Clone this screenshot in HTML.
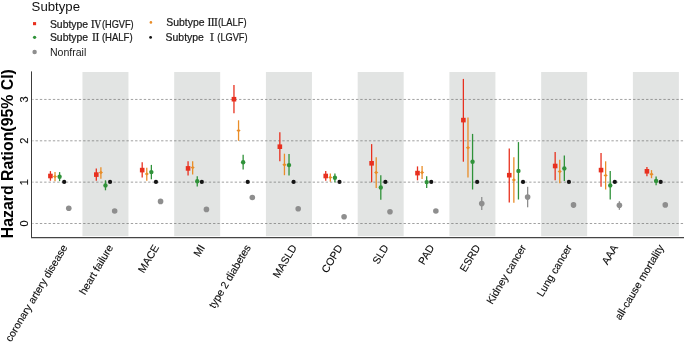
<!DOCTYPE html>
<html lang="en"><head><meta charset="utf-8"><title>Hazard Ratio by Subtype</title>
<style>
html,body{margin:0;padding:0;background:#fff;}
body{width:685px;height:342px;overflow:hidden;}
svg{display:block;will-change:transform;}
text{font-family:"Liberation Sans","Noto Sans CJK SC",sans-serif;fill:#1a1a1a;}
.xl{font-size:10.6px;fill:#0d0d0d;stroke:#0d0d0d;stroke-width:0.12px;}
.yt{font-size:11px;fill:#111;stroke:#111;stroke-width:0.15px;}
.ytitle{font-size:15.85px;font-weight:bold;fill:#000;}
.lt{font-size:13.2px;fill:#111;}
.le{font-size:10.4px;stroke:#1a1a1a;stroke-width:0.22px;}
.nf{stroke:none;}
.rn{font-family:"Liberation Serif","Noto Serif CJK SC",serif;font-weight:500;}
</style></head><body>
<svg width="685" height="342" viewBox="0 0 685 342">
<rect width="685" height="342" fill="#fff"/>
<rect x="82.45" y="72" width="46" height="164.15" fill="#e2e4e3"/>
<rect x="174.19" y="72" width="46" height="164.15" fill="#e2e4e3"/>
<rect x="265.93" y="72" width="46" height="164.15" fill="#e2e4e3"/>
<rect x="357.67" y="72" width="46" height="164.15" fill="#e2e4e3"/>
<rect x="449.41" y="72" width="46" height="164.15" fill="#e2e4e3"/>
<rect x="541.15" y="72" width="46" height="164.15" fill="#e2e4e3"/>
<rect x="632.89" y="72" width="46" height="164.15" fill="#e2e4e3"/>
<line x1="32.4" x2="685" y1="223.50" y2="223.50" stroke="#666" stroke-width="0.62" stroke-dasharray="2.35 1.98" stroke-dashoffset="1.2"/>
<line x1="32.4" x2="685" y1="182.15" y2="182.15" stroke="#666" stroke-width="0.62" stroke-dasharray="2.35 1.98" stroke-dashoffset="1.2"/>
<line x1="32.4" x2="685" y1="140.80" y2="140.80" stroke="#666" stroke-width="0.62" stroke-dasharray="2.35 1.98" stroke-dashoffset="1.2"/>
<line x1="32.4" x2="685" y1="99.45" y2="99.45" stroke="#666" stroke-width="0.62" stroke-dasharray="2.35 1.98" stroke-dashoffset="1.2"/>
<line x1="31.5" x2="31.5" y1="71.4" y2="238.0" stroke="#3c3c3c" stroke-width="1"/>
<line x1="31" x2="684" y1="237.65" y2="237.65" stroke="#454545" stroke-width="1.3"/>
<line x1="50.42" x2="50.42" y1="171.1" y2="180.7" stroke="#e8301f" stroke-width="1.3"/>
<rect x="48.12" y="173.70" width="4.6" height="4.6" fill="#e8301f"/>
<line x1="55.01" x2="55.01" y1="172.1" y2="181.3" stroke="#e98d28" stroke-width="1.3"/>
<polygon points="52.91,176.60 55.01,174.90 57.11,176.60 55.01,178.30" fill="#e98d28"/>
<line x1="59.60" x2="59.60" y1="172.1" y2="181.1" stroke="#2f9239" stroke-width="1.3"/>
<circle cx="59.60" cy="176.8" r="2.2" fill="#2f9239"/>
<circle cx="64.19" cy="181.9" r="2.1" fill="#141414"/>
<circle cx="68.78" cy="208.3" r="2.8" fill="#8e8e8e"/>
<line x1="96.31" x2="96.31" y1="168.4" y2="180.7" stroke="#e8301f" stroke-width="1.3"/>
<rect x="94.01" y="172.30" width="4.6" height="4.6" fill="#e8301f"/>
<line x1="100.89" x2="100.89" y1="167.2" y2="178.7" stroke="#e98d28" stroke-width="1.3"/>
<polygon points="98.80,172.50 100.89,170.80 102.99,172.50 100.89,174.20" fill="#e98d28"/>
<line x1="105.48" x2="105.48" y1="180.3" y2="190.3" stroke="#2f9239" stroke-width="1.3"/>
<circle cx="105.48" cy="185.4" r="2.2" fill="#2f9239"/>
<circle cx="110.08" cy="181.9" r="2.1" fill="#141414"/>
<circle cx="114.66" cy="211.0" r="2.8" fill="#8e8e8e"/>
<line x1="142.19" x2="142.19" y1="162.3" y2="177.6" stroke="#e8301f" stroke-width="1.3"/>
<rect x="139.89" y="167.80" width="4.6" height="4.6" fill="#e8301f"/>
<line x1="146.78" x2="146.78" y1="167.8" y2="180.7" stroke="#e98d28" stroke-width="1.3"/>
<polygon points="144.68,173.90 146.78,172.20 148.88,173.90 146.78,175.60" fill="#e98d28"/>
<line x1="151.37" x2="151.37" y1="164.9" y2="179.3" stroke="#2f9239" stroke-width="1.3"/>
<circle cx="151.37" cy="172.1" r="2.2" fill="#2f9239"/>
<circle cx="155.96" cy="181.9" r="2.1" fill="#141414"/>
<circle cx="160.55" cy="201.4" r="2.8" fill="#8e8e8e"/>
<line x1="188.07" x2="188.07" y1="161.3" y2="175.6" stroke="#e8301f" stroke-width="1.3"/>
<rect x="185.77" y="166.10" width="4.6" height="4.6" fill="#e8301f"/>
<line x1="192.66" x2="192.66" y1="161.3" y2="174.6" stroke="#e98d28" stroke-width="1.3"/>
<polygon points="190.56,167.60 192.66,165.90 194.76,167.60 192.66,169.30" fill="#e98d28"/>
<line x1="197.25" x2="197.25" y1="176.2" y2="186.4" stroke="#2f9239" stroke-width="1.3"/>
<circle cx="197.25" cy="181.3" r="2.2" fill="#2f9239"/>
<circle cx="201.84" cy="181.9" r="2.1" fill="#141414"/>
<circle cx="206.44" cy="209.4" r="2.8" fill="#8e8e8e"/>
<line x1="233.96" x2="233.96" y1="85.1" y2="113.2" stroke="#e8301f" stroke-width="1.3"/>
<rect x="231.66" y="96.90" width="4.6" height="4.6" fill="#e8301f"/>
<line x1="238.55" x2="238.55" y1="120.3" y2="140.8" stroke="#e98d28" stroke-width="1.3"/>
<polygon points="236.45,130.60 238.55,128.90 240.65,130.60 238.55,132.30" fill="#e98d28"/>
<line x1="243.14" x2="243.14" y1="154.7" y2="169.4" stroke="#2f9239" stroke-width="1.3"/>
<circle cx="243.14" cy="162.3" r="2.2" fill="#2f9239"/>
<circle cx="247.73" cy="181.9" r="2.1" fill="#141414"/>
<circle cx="252.32" cy="197.5" r="2.8" fill="#8e8e8e"/>
<line x1="279.84" x2="279.84" y1="132.2" y2="161.3" stroke="#e8301f" stroke-width="1.3"/>
<rect x="277.54" y="144.40" width="4.6" height="4.6" fill="#e8301f"/>
<line x1="284.44" x2="284.44" y1="153.7" y2="175.2" stroke="#e98d28" stroke-width="1.3"/>
<polygon points="282.33,164.70 284.44,163.00 286.54,164.70 284.44,166.40" fill="#e98d28"/>
<line x1="289.02" x2="289.02" y1="154.1" y2="175.6" stroke="#2f9239" stroke-width="1.3"/>
<circle cx="289.02" cy="165.1" r="2.2" fill="#2f9239"/>
<circle cx="293.61" cy="181.9" r="2.1" fill="#141414"/>
<circle cx="298.20" cy="208.7" r="2.8" fill="#8e8e8e"/>
<line x1="325.73" x2="325.73" y1="171.1" y2="180.7" stroke="#e8301f" stroke-width="1.3"/>
<rect x="323.43" y="173.70" width="4.6" height="4.6" fill="#e8301f"/>
<line x1="330.32" x2="330.32" y1="173.5" y2="181.7" stroke="#e98d28" stroke-width="1.3"/>
<polygon points="328.22,177.40 330.32,175.70 332.42,177.40 330.32,179.10" fill="#e98d28"/>
<line x1="334.91" x2="334.91" y1="173.5" y2="182.3" stroke="#2f9239" stroke-width="1.3"/>
<circle cx="334.91" cy="177.8" r="2.2" fill="#2f9239"/>
<circle cx="339.50" cy="181.9" r="2.1" fill="#141414"/>
<circle cx="344.09" cy="216.7" r="2.8" fill="#8e8e8e"/>
<line x1="371.62" x2="371.62" y1="144.1" y2="182.3" stroke="#e8301f" stroke-width="1.3"/>
<rect x="369.31" y="161.00" width="4.6" height="4.6" fill="#e8301f"/>
<line x1="376.21" x2="376.21" y1="157.2" y2="187.9" stroke="#e98d28" stroke-width="1.3"/>
<polygon points="374.11,172.50 376.21,170.80 378.31,172.50 376.21,174.20" fill="#e98d28"/>
<line x1="380.80" x2="380.80" y1="175.2" y2="199.7" stroke="#2f9239" stroke-width="1.3"/>
<circle cx="380.80" cy="187.5" r="2.2" fill="#2f9239"/>
<circle cx="385.38" cy="181.9" r="2.1" fill="#141414"/>
<circle cx="389.98" cy="211.8" r="2.8" fill="#8e8e8e"/>
<line x1="417.50" x2="417.50" y1="166.4" y2="180.3" stroke="#e8301f" stroke-width="1.3"/>
<rect x="415.20" y="170.80" width="4.6" height="4.6" fill="#e8301f"/>
<line x1="422.09" x2="422.09" y1="166.0" y2="179.1" stroke="#e98d28" stroke-width="1.3"/>
<polygon points="419.99,172.50 422.09,170.80 424.19,172.50 422.09,174.20" fill="#e98d28"/>
<line x1="426.68" x2="426.68" y1="176.2" y2="187.9" stroke="#2f9239" stroke-width="1.3"/>
<circle cx="426.68" cy="182.1" r="2.2" fill="#2f9239"/>
<circle cx="431.27" cy="181.9" r="2.1" fill="#141414"/>
<circle cx="435.86" cy="211.0" r="2.8" fill="#8e8e8e"/>
<line x1="463.38" x2="463.38" y1="78.9" y2="161.7" stroke="#e8301f" stroke-width="1.3"/>
<rect x="461.08" y="117.80" width="4.6" height="4.6" fill="#e8301f"/>
<line x1="467.98" x2="467.98" y1="117.5" y2="177.6" stroke="#e98d28" stroke-width="1.3"/>
<polygon points="465.88,147.70 467.98,146.00 470.08,147.70 467.98,149.40" fill="#e98d28"/>
<line x1="472.56" x2="472.56" y1="133.9" y2="189.5" stroke="#2f9239" stroke-width="1.3"/>
<circle cx="472.56" cy="161.7" r="2.2" fill="#2f9239"/>
<circle cx="477.15" cy="181.9" r="2.1" fill="#141414"/>
<line x1="481.75" x2="481.75" y1="197.1" y2="210.0" stroke="#8e8e8e" stroke-width="1.3"/>
<circle cx="481.75" cy="203.6" r="2.8" fill="#8e8e8e"/>
<line x1="509.27" x2="509.27" y1="148.4" y2="202.6" stroke="#e8301f" stroke-width="1.3"/>
<rect x="506.97" y="172.90" width="4.6" height="4.6" fill="#e8301f"/>
<line x1="513.86" x2="513.86" y1="157.2" y2="202.8" stroke="#e98d28" stroke-width="1.3"/>
<polygon points="511.76,179.90 513.86,178.20 515.96,179.90 513.86,181.60" fill="#e98d28"/>
<line x1="518.45" x2="518.45" y1="142.1" y2="199.5" stroke="#2f9239" stroke-width="1.3"/>
<circle cx="518.45" cy="170.9" r="2.2" fill="#2f9239"/>
<circle cx="523.04" cy="181.9" r="2.1" fill="#141414"/>
<line x1="527.63" x2="527.63" y1="186.8" y2="207.3" stroke="#8e8e8e" stroke-width="1.3"/>
<circle cx="527.63" cy="197.1" r="2.8" fill="#8e8e8e"/>
<line x1="555.15" x2="555.15" y1="152.0" y2="180.3" stroke="#e8301f" stroke-width="1.3"/>
<rect x="552.86" y="163.70" width="4.6" height="4.6" fill="#e8301f"/>
<line x1="559.74" x2="559.74" y1="159.8" y2="183.2" stroke="#e98d28" stroke-width="1.3"/>
<polygon points="557.64,171.50 559.74,169.80 561.84,171.50 559.74,173.20" fill="#e98d28"/>
<line x1="564.33" x2="564.33" y1="155.5" y2="181.1" stroke="#2f9239" stroke-width="1.3"/>
<circle cx="564.33" cy="168.4" r="2.2" fill="#2f9239"/>
<circle cx="568.92" cy="181.9" r="2.1" fill="#141414"/>
<line x1="573.51" x2="573.51" y1="202.2" y2="207.9" stroke="#8e8e8e" stroke-width="1.3"/>
<circle cx="573.51" cy="204.9" r="2.8" fill="#8e8e8e"/>
<line x1="601.04" x2="601.04" y1="153.1" y2="186.8" stroke="#e8301f" stroke-width="1.3"/>
<rect x="598.74" y="167.80" width="4.6" height="4.6" fill="#e8301f"/>
<line x1="605.63" x2="605.63" y1="161.3" y2="189.5" stroke="#e98d28" stroke-width="1.3"/>
<polygon points="603.53,175.40 605.63,173.70 607.73,175.40 605.63,177.10" fill="#e98d28"/>
<line x1="610.22" x2="610.22" y1="171.1" y2="199.5" stroke="#2f9239" stroke-width="1.3"/>
<circle cx="610.22" cy="185.4" r="2.2" fill="#2f9239"/>
<circle cx="614.81" cy="181.9" r="2.1" fill="#141414"/>
<line x1="619.40" x2="619.40" y1="201.2" y2="209.8" stroke="#8e8e8e" stroke-width="1.3"/>
<circle cx="619.40" cy="205.3" r="2.8" fill="#8e8e8e"/>
<line x1="646.93" x2="646.93" y1="167.0" y2="176.2" stroke="#e8301f" stroke-width="1.3"/>
<rect x="644.63" y="169.00" width="4.6" height="4.6" fill="#e8301f"/>
<line x1="651.51" x2="651.51" y1="170.1" y2="178.2" stroke="#e98d28" stroke-width="1.3"/>
<polygon points="649.41,174.20 651.51,172.50 653.62,174.20 651.51,175.90" fill="#e98d28"/>
<line x1="656.11" x2="656.11" y1="176.6" y2="185.2" stroke="#2f9239" stroke-width="1.3"/>
<circle cx="656.11" cy="180.9" r="2.2" fill="#2f9239"/>
<circle cx="660.70" cy="181.9" r="2.1" fill="#141414"/>
<circle cx="665.28" cy="204.9" r="2.8" fill="#8e8e8e"/>
<text class="xl" text-anchor="end" transform="translate(67.70,247.4) rotate(-59.2)">coronary artery disease</text>
<text class="xl" text-anchor="end" transform="translate(113.58,247.4) rotate(-59.2)">heart failure</text>
<text class="xl" text-anchor="end" transform="translate(159.47,247.4) rotate(-59.2)">MACE</text>
<text class="xl" text-anchor="end" transform="translate(205.35,247.4) rotate(-59.2)">MI</text>
<text class="xl" text-anchor="end" transform="translate(251.24,247.4) rotate(-59.2)">type 2 diabetes</text>
<text class="xl" text-anchor="end" transform="translate(297.12,247.4) rotate(-59.2)">MASLD</text>
<text class="xl" text-anchor="end" transform="translate(343.01,247.4) rotate(-59.2)">COPD</text>
<text class="xl" text-anchor="end" transform="translate(388.90,247.4) rotate(-59.2)">SLD</text>
<text class="xl" text-anchor="end" transform="translate(434.78,247.4) rotate(-59.2)">PAD</text>
<text class="xl" text-anchor="end" transform="translate(480.67,247.4) rotate(-59.2)">ESRD</text>
<text class="xl" text-anchor="end" transform="translate(526.55,247.4) rotate(-59.2)">Kidney cancer</text>
<text class="xl" text-anchor="end" transform="translate(572.43,247.4) rotate(-59.2)">Lung cancer</text>
<text class="xl" text-anchor="end" transform="translate(618.32,247.4) rotate(-59.2)">AAA</text>
<text class="xl" text-anchor="end" transform="translate(664.21,247.4) rotate(-59.2)">all-cause mortality</text>
<text class="yt" text-anchor="middle" transform="translate(28.0,223.50) rotate(-90)">0</text>
<text class="yt" text-anchor="middle" transform="translate(28.0,182.15) rotate(-90)">1</text>
<text class="yt" text-anchor="middle" transform="translate(28.0,140.80) rotate(-90)">2</text>
<text class="yt" text-anchor="middle" transform="translate(28.0,99.45) rotate(-90)">3</text>
<text class="ytitle" text-anchor="middle" transform="translate(12.6,153.65) rotate(-90)">Hazard Ration(95% CI)</text>
<text class="lt" x="31.6" y="11">Subtype</text>
<rect x="33.0" y="22.1" width="3.1" height="3.1" fill="#e8301f"/>
<circle cx="34.6" cy="37.3" r="1.65" fill="#2f9239"/>
<circle cx="34.6" cy="52.1" r="2.25" fill="#8e8e8e"/>
<circle cx="150.9" cy="22.4" r="1.3" fill="#e98d28"/>
<circle cx="150.6" cy="37.4" r="1.4" fill="#141414"/>
<text class="le" y="27.7"><tspan x="49.9" textLength="38.3" lengthAdjust="spacingAndGlyphs">Subtype</tspan> <tspan class="rn" x="96.3" text-anchor="middle">Ⅳ</tspan><tspan x="101.9" text-anchor="start" textLength="31.8" lengthAdjust="spacingAndGlyphs">(HGVF)</tspan></text>
<text class="le" y="41.4"><tspan x="49.9" textLength="38.3" lengthAdjust="spacingAndGlyphs">Subtype</tspan> <tspan class="rn" x="95.7" text-anchor="middle">Ⅱ</tspan><tspan x="101.9" text-anchor="start" textLength="30.7" lengthAdjust="spacingAndGlyphs">(HALF)</tspan></text>
<text class="le nf" x="49.9" y="55.8" textLength="36.4" lengthAdjust="spacingAndGlyphs">Nonfrail</text>
<text class="le" y="26.3"><tspan x="166.3" textLength="38.3" lengthAdjust="spacingAndGlyphs">Subtype</tspan> <tspan class="rn" x="212.6" text-anchor="middle">Ⅲ</tspan><tspan x="218.0" text-anchor="start" textLength="28.5" lengthAdjust="spacingAndGlyphs">(LALF)</tspan></text>
<text class="le" y="41.4"><tspan x="165.6" textLength="38.3" lengthAdjust="spacingAndGlyphs">Subtype</tspan> <tspan class="rn" x="212.0" text-anchor="middle">Ⅰ</tspan><tspan x="217.3" text-anchor="start" textLength="30.3" lengthAdjust="spacingAndGlyphs">(LGVF)</tspan></text>
</svg>
</body></html>
